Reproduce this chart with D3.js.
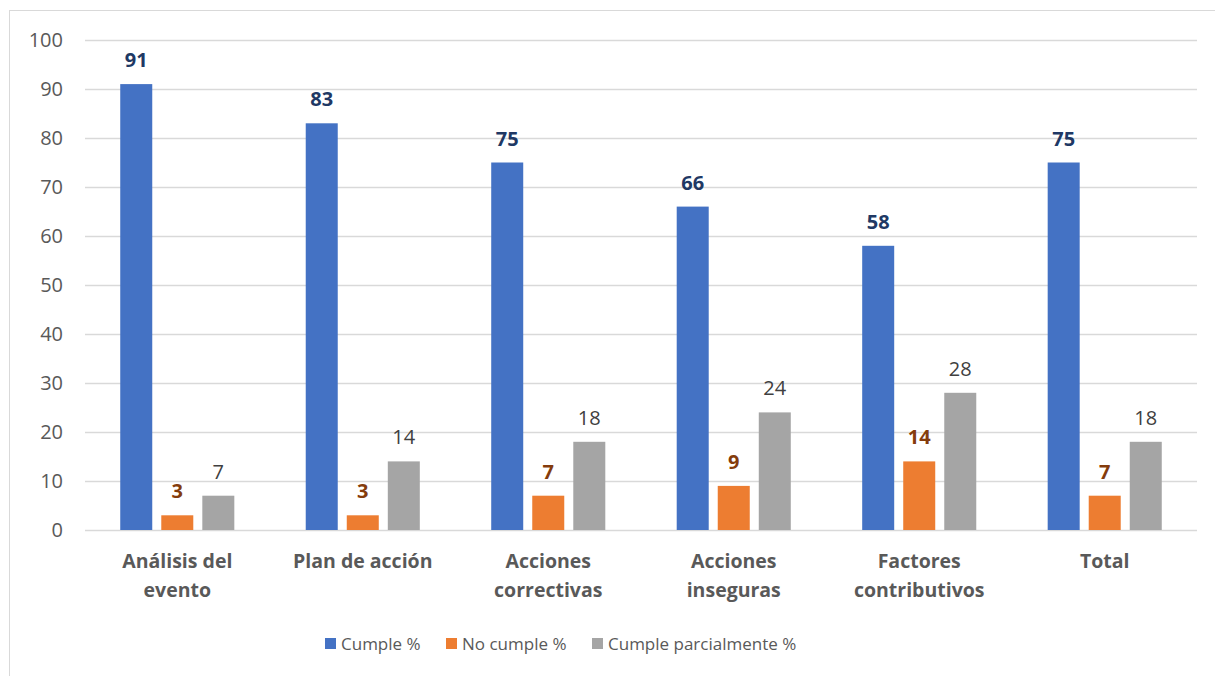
<!DOCTYPE html>
<html>
<head>
<meta charset="utf-8">
<script src="https://cdn.jsdelivr.net/npm/d3@7"></script>
<style>
  body { margin: 0; background: #fff; }
  text { font-family: "Open Sans", "Noto Sans", Arial, sans-serif; }
</style>
</head>
<body>
<div id="chart"></div>
<script>
// Chart data
const categories = [["Análisis del", "evento"], ["Plan de acción"], ["Acciones", "correctivas"], ["Acciones", "inseguras"], ["Factores", "contributivos"], ["Total"]];
const seriesNames = ["Cumple %", "No cumple %", "Cumple parcialmente %"];
const cumple = [91, 83, 75, 66, 58, 75];
const noCumple = [3, 3, 7, 9, 14, 7];
const parcial = [7, 14, 18, 24, 28, 18];
const yTicks = [0, 10, 20, 30, 40, 50, 60, 70, 80, 90, 100];

const colors = ["#4472C4", "#ED7D31", "#A5A5A5"];
const labelColors = ["#203864", "#843C0C", "#404040"];
const labelWeights = ["bold", "bold", "normal"];

const width = 1215, height = 676;
const margin = { left: 85, right: 18, top: 40, bottom: 146 };
const fontFam = "'Open Sans', 'Noto Sans', Arial, sans-serif";

const svg = d3.select("#chart").append("svg")
    .attr("width", width)
    .attr("height", height);

// chart frame
svg.append("rect")
    .attr("x", 9.5).attr("y", 10.5)
    .attr("width", width + 10).attr("height", height + 10)
    .attr("fill", "none")
    .attr("stroke", "#D9D9D9");

const x0 = d3.scaleBand()
    .domain(d3.range(categories.length))
    .range([margin.left, width - margin.right])
    .paddingInner(0.385)
    .paddingOuter(0.19);

const x1 = d3.scaleBand()
    .domain(d3.range(seriesNames.length))
    .range([0, x0.bandwidth()])
    .paddingInner(0.22)
    .paddingOuter(0);

const y = d3.scaleLinear()
    .domain([0, 100])
    .range([height - margin.bottom, margin.top]);

// gridlines + y labels via axis
const yAxis = svg.append("g")
    .attr("transform", `translate(${margin.left},0)`)
    .call(d3.axisLeft(y).tickValues(yTicks).tickSize(-(width - margin.left - margin.right)).tickPadding(22));
yAxis.select(".domain").remove();
yAxis.selectAll(".tick line").attr("stroke", "#D9D9D9").attr("stroke-width", 1.3);
yAxis.selectAll(".tick text")
    .attr("fill", "#595959")
    .style("font-size", "20px")
    .style("font-family", fontFam);

const series = [cumple, noCumple, parcial];

const groups = svg.append("g").selectAll("g")
    .data(categories)
    .join("g")
    .attr("transform", (d, i) => `translate(${x0(i)},0)`);

groups.each(function(cat, i) {
    const g = d3.select(this);
    series.forEach((vals, s) => {
        g.append("rect")
            .attr("x", x1(s))
            .attr("y", y(vals[i]))
            .attr("width", x1.bandwidth())
            .attr("height", y(0) - y(vals[i]))
            .attr("fill", colors[s]);
        g.append("text")
            .attr("x", x1(s) + x1.bandwidth() / 2)
            .attr("y", y(vals[i]) - 17)
            .attr("text-anchor", "middle")
            .attr("fill", labelColors[s])
            .attr("font-weight", labelWeights[s])
            .style("font-size", "20px")
            .text(vals[i]);
    });
});

// category labels
const catLabels = svg.append("g").selectAll("text")
    .data(categories)
    .join("text")
    .attr("x", (d, i) => x0(i) + x0.bandwidth() / 2)
    .attr("y", 568)
    .attr("text-anchor", "middle")
    .attr("fill", "#595959")
    .attr("font-weight", "bold")
    .style("font-size", "19.5px");
catLabels.selectAll("tspan")
    .data(d => d)
    .join("tspan")
    .attr("x", function() { return d3.select(this.parentNode).attr("x"); })
    .attr("dy", (d, i) => i === 0 ? 0 : 29)
    .text(d => d);

// legend
const legendX = [325, 446, 592];
const legend = svg.append("g").selectAll("g")
    .data(seriesNames)
    .join("g")
    .attr("transform", (d, i) => `translate(${legendX[i]},638)`);
legend.append("rect")
    .attr("width", 11).attr("height", 11)
    .attr("fill", (d, i) => colors[i]);
legend.append("text")
    .attr("x", 16).attr("y", 12)
    .attr("fill", "#595959")
    .style("font-size", "17px")
    .text(d => d);
</script>
</body>
</html>
